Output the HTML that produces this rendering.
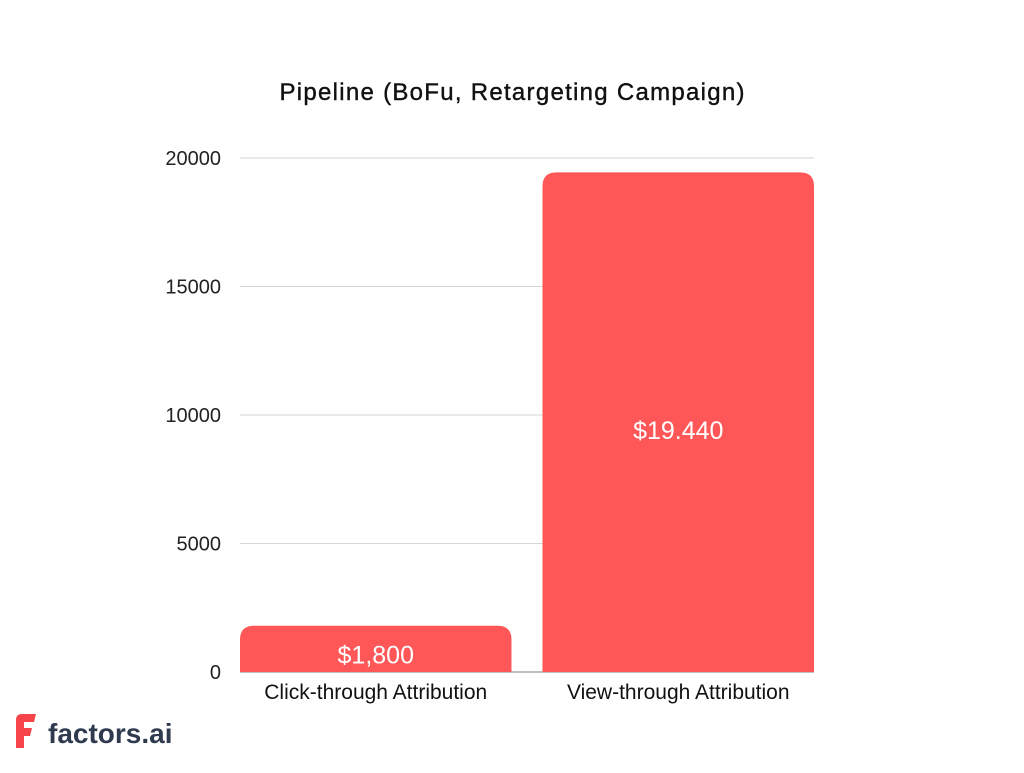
<!DOCTYPE html>
<html><head><meta charset="utf-8"><style>
body{margin:0;background:#fff;width:1024px;height:768px;overflow:hidden;font-family:"Liberation Sans",sans-serif}
</style></head><body>
<svg width="1024" height="768">
<text x="512" y="100" text-anchor="middle" font-size="24" fill="#111" stroke="#111" stroke-width="0.4" textLength="465">Pipeline (BoFu, Retargeting Campaign)</text>
<g id="grid"></g><g id="bars"></g>
<g>
<path d="M16 720 Q16 714 22 714 L36 714 L34 722 L24 722 L24 728 L32 728 L30 736 L24 736 L24 748 L16 748 Z" fill="#f5454a"/>
<text x="48" y="743" font-size="28" font-weight="bold" fill="#2f3a4e">factors.ai</text>
</g>
</svg>
<script>
const categories=["Click-through Attribution","View-through Attribution"];
const values=[1800,19440];
const valueLabels=["$1,800","$19.440"];
const ticks=[0,5000,10000,15000,20000];
const NS="http://www.w3.org/2000/svg";
const y0=672,y1=158,vmax=20000,xL=240,xR=814,gap=31;
const y=v=>y0-(v/vmax)*(y0-y1);
const g=document.getElementById('grid'),b=document.getElementById('bars');
function mk(p,tag,a){const e=document.createElementNS(NS,tag);for(const k in a)e.setAttribute(k,a[k]);p.appendChild(e);return e;}
ticks.forEach(t=>{
 const l=mk(g,'line',{x1:xL,x2:xR,y1:y(t),y2:y(t),stroke:t===0?'#aaa':'#d6d6d6','stroke-width':t===0?1.5:1});
 
 
 const tx=mk(g,'text',{x:221,y:y(t)+7,'text-anchor':'end','font-size':20,fill:'#222'});
 tx.textContent=t;
 
 
});
const n=categories.length,w=((xR-xL)-gap*(n-1))/n;
categories.forEach((c,i)=>{
 const x=xL+i*(w+gap),top=y(values[i]),h=y0-top,r=14;
 const p=mk(b,'path',{d:`M${x} ${y0} L${x} ${top+r} Q${x} ${top} ${x+r} ${top} L${x+w-r} ${top} Q${x+w} ${top} ${x+w} ${top+r} L${x+w} ${y0} Z`,fill:'#ff5757'});
 
 
 const vl=mk(b,'text',{x:x+w/2,y:h<80?top+38:top+h/2+17,'text-anchor':'middle','font-size':25,fill:'#fff'});
 vl.textContent=valueLabels[i];
 
 
 const cl=mk(b,'text',{x:x+w/2,y:699,'text-anchor':'middle','font-size':21,fill:'#111'});
 cl.textContent=c;
 
 
});
</script>
</body></html>
